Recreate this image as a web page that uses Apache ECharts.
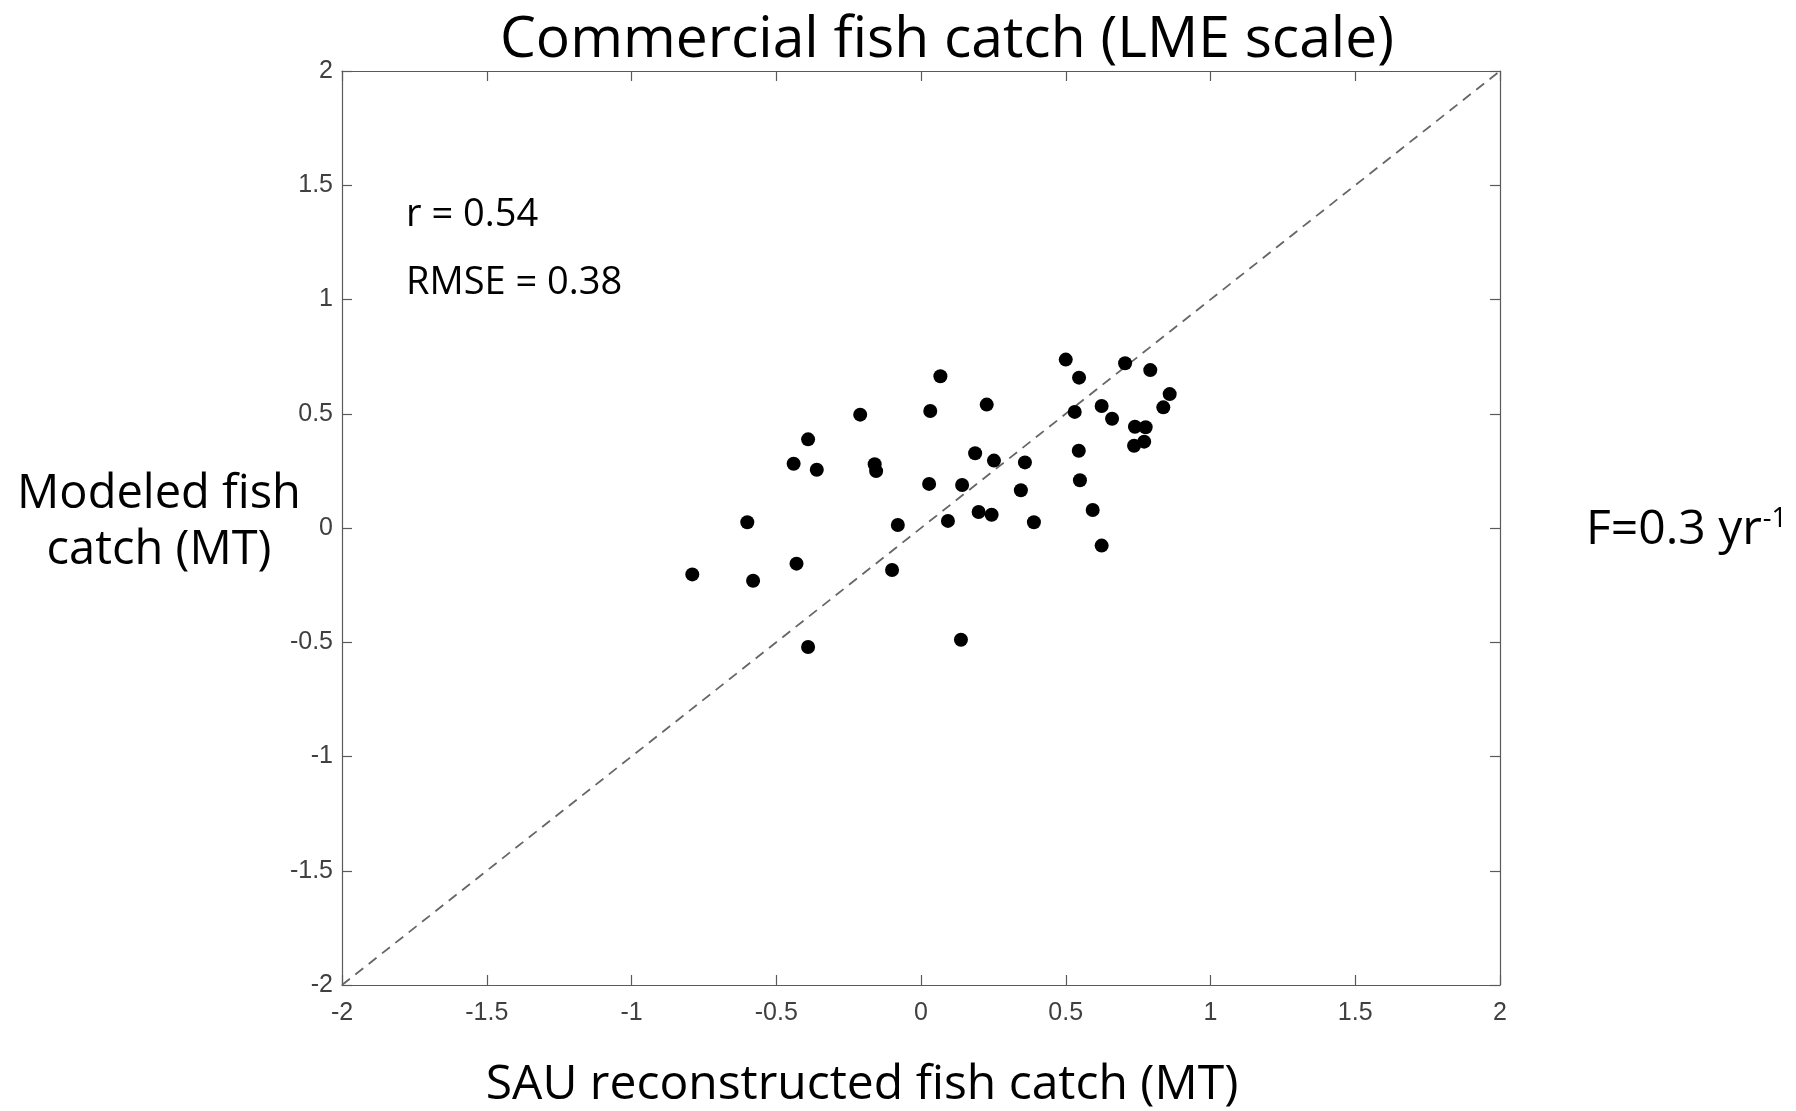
<!DOCTYPE html>
<html>
<head>
<meta charset="utf-8">
<script src="https://cdn.jsdelivr.net/npm/echarts@6/dist/echarts.min.js"></script>
<style>
  html, body { margin: 0; padding: 0; background: #fff; }
  #chart { width: 1796px; height: 1111px; }
</style>
</head>
<body>
<div id="chart"></div>
<script>
// SAU reconstructed catch (x) vs modeled catch (y), one dot per LME
const sauCatch = [
  -0.79, -0.60, -0.58, -0.43, -0.39, -0.39, -0.44, -0.36, -0.21, -0.16,
  -0.155, -0.08, -0.10, 0.067, 0.032, 0.028, 0.093, 0.138, 0.142, 0.187,
  0.227, 0.252, 0.199, 0.244, 0.359, 0.345, 0.390, 0.500, 0.546, 0.705,
  0.792, 0.859, 0.837, 0.531, 0.624, 0.660, 0.739, 0.776, 0.736, 0.771,
  0.545, 0.549, 0.593, 0.624
];
const modeledCatch = [
  -0.203, 0.025, -0.231, -0.156, -0.521, 0.388, 0.281, 0.255, 0.496, 0.279,
  0.249, 0.013, -0.184, 0.664, 0.512, 0.193, 0.031, -0.489, 0.188, 0.327,
  0.540, 0.295, 0.070, 0.058, 0.287, 0.165, 0.025, 0.737, 0.658, 0.721,
  0.691, 0.586, 0.528, 0.508, 0.534, 0.478, 0.443, 0.441, 0.360, 0.378,
  0.338, 0.209, 0.079, -0.077
];
// 1:1 reference line
const oneToOneX = [-2, 2];
const oneToOneY = [-2, 2];

const axisMin = -2, axisMax = 2, axisStep = 0.5;

const chartTitle = 'Commercial fish catch (LME scale)';
const xName = 'SAU reconstructed fish catch (MT)';
const yName = 'Modeled fish\ncatch (MT)';
const statR = 'r = 0.54';
const statRmse = 'RMSE = 0.38';
const runLabel = 'F=0.3 yr';
const runUnitExp = '-1';

const textFont = '"Open Sans", Lato, sans-serif';
const tickFont = '"Liberation Sans", Arial, sans-serif';
const frameColor = '#5a5a5a';
const tickColor = '#404040';

const chart = echarts.init(document.getElementById('chart'));

function baseAxis(extra) {
  return Object.assign({
    type: 'value',
    min: axisMin,
    max: axisMax,
    interval: axisStep,
    splitLine: { show: false },
    axisLine: { show: true, onZero: false, lineStyle: { color: frameColor, width: 1.2 } },
    axisTick: { show: true, inside: true, length: 10, lineStyle: { color: frameColor, width: 1.2 } },
    axisLabel: { show: false }
  }, extra);
}

const scatterData = sauCatch.map((x, i) => [x, modeledCatch[i]]);
const lineData = oneToOneX.map((x, i) => [x, oneToOneY[i]]);

chart.setOption({
  backgroundColor: '#fff',
  animation: false,
  title: {
    text: chartTitle,
    left: 942,
    textAlign: 'center',
    top: 7,
    textStyle: { fontFamily: textFont, fontWeight: 'normal', fontSize: 57, color: '#000' }
  },
  grid: { left: 342, top: 71, width: 1158, height: 914, containLabel: false, outerBoundsMode: 'none' },
  xAxis: [
    baseAxis({
      position: 'bottom',
      axisLabel: { show: true, color: tickColor, fontFamily: tickFont, fontSize: 25, margin: 16 },
      name: xName,
      nameLocation: 'middle',
      nameGap: 76,
      nameTextStyle: { fontFamily: textFont, fontSize: 48, color: '#000', padding: [0, 118, 0, 0] }
    }),
    baseAxis({ position: 'top' })
  ],
  yAxis: [
    baseAxis({
      position: 'left',
      axisLabel: { show: true, color: tickColor, fontFamily: tickFont, fontSize: 25, margin: 9 }
    }),
    baseAxis({ position: 'right' })
  ],
  series: [
    {
      type: 'line',
      data: lineData,
      symbol: 'none',
      silent: true,
      lineStyle: { color: '#666', width: 1.8, type: [10, 7] },
      z: 1
    },
    {
      type: 'scatter',
      data: scatterData,
      symbol: 'circle',
      symbolSize: 14,
      itemStyle: { color: '#000', opacity: 1 },
      z: 3
    }
  ],
  graphic: [
    {
      // y-axis title, two horizontal lines left of the frame
      type: 'text', x: 159, y: 523,
      style: {
        text: yName, font: '47px ' + textFont, fill: '#000',
        align: 'center', verticalAlign: 'middle', lineHeight: 56
      }
    },
    {
      type: 'text', left: 406, top: 196,
      style: { text: statR, font: '38px ' + textFont, fill: '#000' }
    },
    {
      type: 'text', left: 406, top: 264,
      style: { text: statRmse, font: '38px ' + textFont, fill: '#000' }
    },
    {
      type: 'text', left: 1586, top: 506,
      style: {
        text: runLabel + '{sup|' + runUnitExp + '}',
        font: '48px ' + textFont,
        fill: '#000',
        rich: {
          sup: { fontFamily: textFont, fontSize: 27, fill: '#000', verticalAlign: 'top', padding: [0, 0, 20, 1] }
        }
      }
    }
  ]
});
</script>
</body>
</html>
